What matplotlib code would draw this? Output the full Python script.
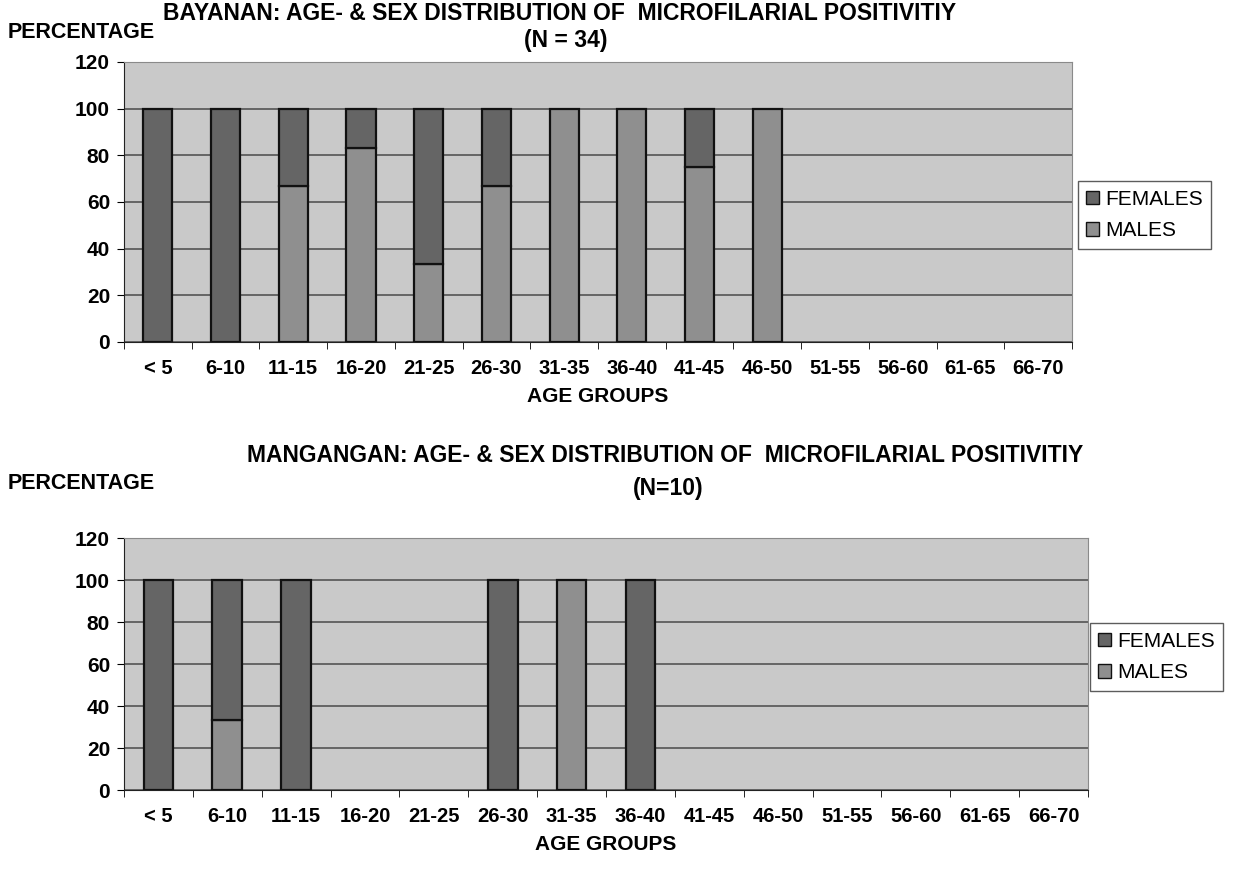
import numpy as np
import matplotlib.pyplot as plt
from matplotlib.patches import Patch

plt.rcParams['font.family'] = ['Liberation Sans', 'DejaVu Sans']

age_groups = ['< 5', '6-10', '11-15', '16-20', '21-25', '26-30', '31-35',
              '36-40', '41-45', '46-50', '51-55', '56-60', '61-65', '66-70']

# Bayanan (N = 34), percentages per age group
bay_males = [0, 0, 66.7, 83.3, 33.3, 66.7, 100, 100, 75, 100, 0, 0, 0, 0]
bay_females = [100, 100, 33.3, 16.7, 66.7, 33.3, 0, 0, 25, 0, 0, 0, 0, 0]

# Mangangan (N = 10)
man_males = [0, 33.3, 0, 0, 0, 0, 100, 0, 0, 0, 0, 0, 0, 0]
man_females = [100, 66.7, 100, 0, 0, 100, 0, 100, 0, 0, 0, 0, 0, 0]

c_fem = '#656565'
c_male = '#8f8f8f'
c_bg = '#c9c9c9'
W, H = 1241, 875

fig = plt.figure(figsize=(12.41, 8.75), dpi=100)


def draw(rect, males, females, leg_x, leg_y):
    ax = fig.add_axes(rect)
    ax.set_facecolor(c_bg)
    x = np.arange(len(age_groups))
    m = np.array(males, dtype=float)
    f = np.array(females, dtype=float)
    mm = m > 0
    fm = f > 0
    ax.bar(x[mm], m[mm], width=0.43, color=c_male, edgecolor='#111111', lw=1.6, zorder=3)
    ax.bar(x[fm], f[fm], bottom=m[fm], width=0.43, color=c_fem, edgecolor='#111111', lw=1.6, zorder=3)
    ax.set_xlim(-0.5, len(age_groups) - 0.5)
    ax.set_ylim(0, 120)
    ax.set_yticks(range(0, 121, 20))
    ax.set_xticks(x)
    ax.set_xticklabels(age_groups, fontsize=14.5)
    ax.set_xticks(np.arange(-0.5, len(age_groups)), minor=True)
    ax.tick_params(axis='x', which='major', length=0, pad=12)
    ax.tick_params(axis='x', which='minor', length=5, direction='out')
    ax.tick_params(axis='y', length=5, direction='out', labelsize=15, pad=5)
    for lab in ax.get_xticklabels() + ax.get_yticklabels():
        lab.set_fontweight('bold')
    ax.yaxis.grid(True, color='#4a4a4a', lw=1.1, zorder=1)
    for s in ['top', 'right']:
        ax.spines[s].set_color('#8a8a8a')
    for s in ['left', 'bottom']:
        ax.spines[s].set_color('#222222')
    ax.set_xlabel('AGE GROUPS', fontsize=15, fontweight='bold', labelpad=7)
    handles = [Patch(facecolor=c_fem, edgecolor='#111111', label='FEMALES'),
               Patch(facecolor=c_male, edgecolor='#111111', label='MALES')]
    fig.legend(handles=handles, loc='center left', bbox_to_anchor=(leg_x / W, 1 - leg_y / H),
               fontsize=15, frameon=True, fancybox=False, edgecolor='#333333',
               handlelength=0.6, handleheight=0.6, handletextpad=0.3,
               borderpad=0.4, labelspacing=0.6, borderaxespad=0)
    return ax


draw([124 / W, 1 - 342 / H, 948 / W, 280 / H], bay_males, bay_females, 1078, 215)
draw([124 / W, 1 - 790 / H, 964 / W, 252 / H], man_males, man_females, 1090, 657)

fig.text(560 / W, 1 - 14 / H, 'BAYANAN: AGE- & SEX DISTRIBUTION OF  MICROFILARIAL POSITIVITIY',
         ha='center', va='center', fontsize=16.5, fontweight='bold')
fig.text(566 / W, 1 - 40 / H, '(N = 34)', ha='center', va='center', fontsize=16.5, fontweight='bold')
fig.text(8 / W, 1 - 33 / H, 'PERCENTAGE', ha='left', va='center', fontsize=15.5, fontweight='bold')

fig.text(665 / W, 1 - 455 / H, 'MANGANGAN: AGE- & SEX DISTRIBUTION OF  MICROFILARIAL POSITIVITIY',
         ha='center', va='center', fontsize=16.5, fontweight='bold')
fig.text(668 / W, 1 - 488 / H, '(N=10)', ha='center', va='center', fontsize=16.5, fontweight='bold')
fig.text(8 / W, 1 - 483 / H, 'PERCENTAGE', ha='left', va='center', fontsize=15.5, fontweight='bold')

fig.savefig('out.png', dpi=100)
